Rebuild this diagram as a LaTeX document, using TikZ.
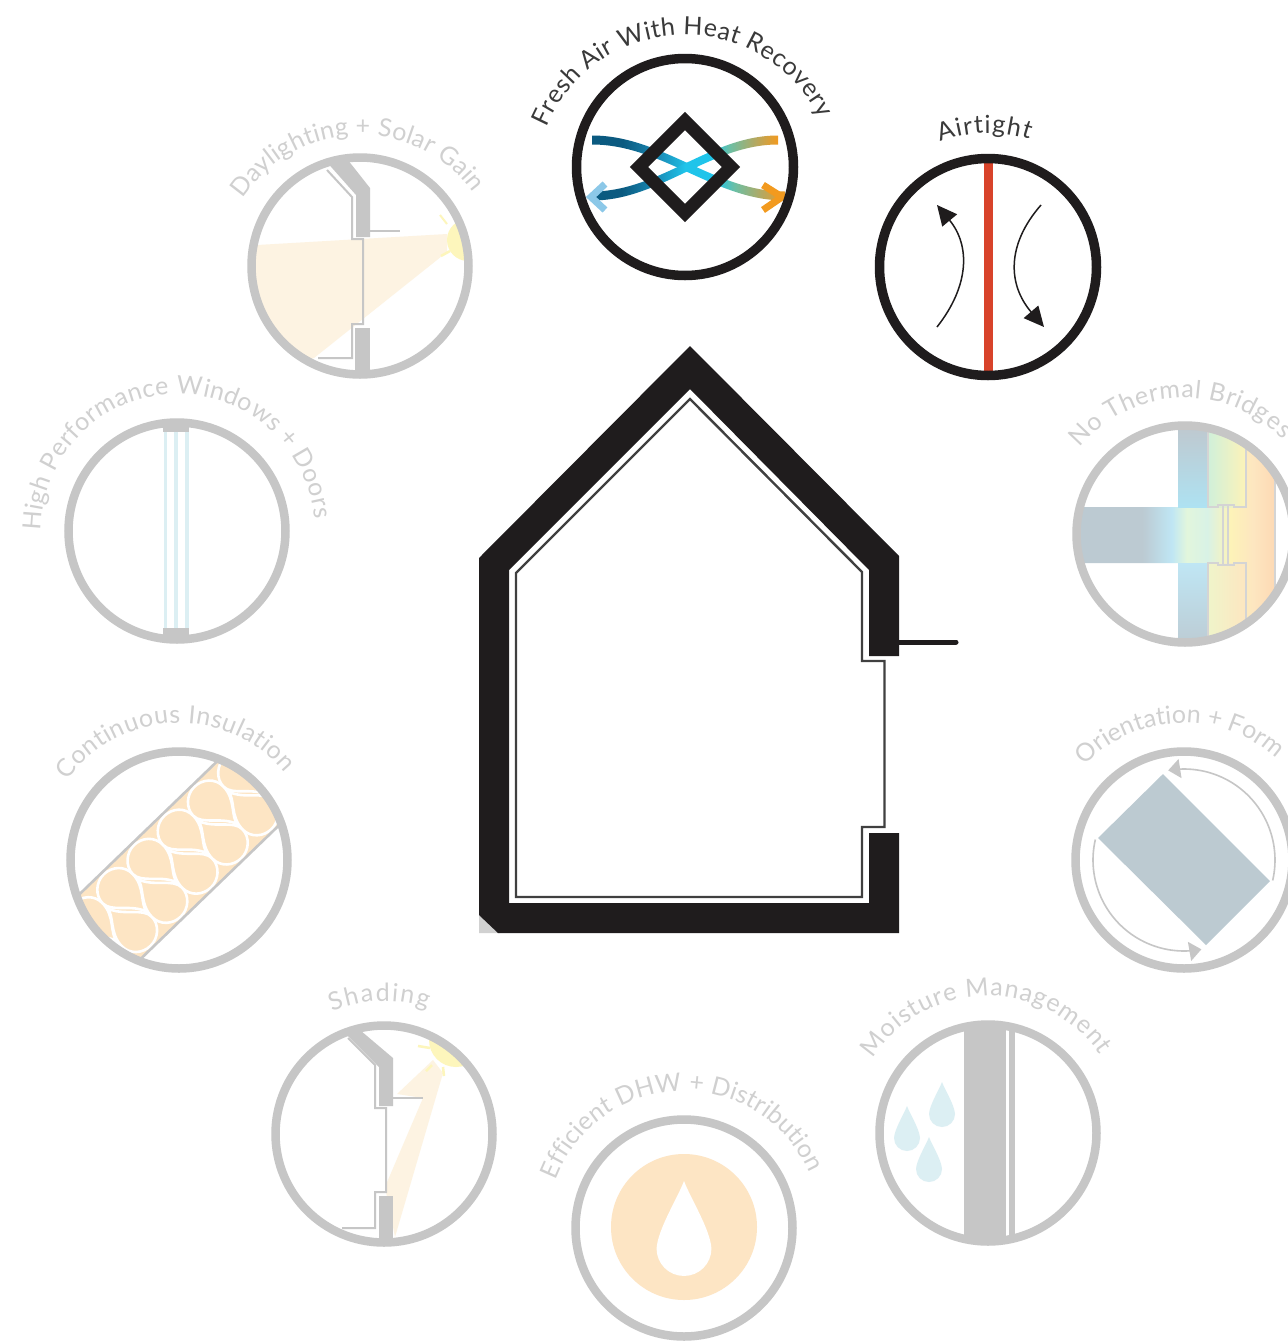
\documentclass[tikz,border=0pt]{standalone}
\usepackage{fontspec}
\usetikzlibrary{decorations.text,arrows.meta}
\newfontfamily\latofam{Lato}
\definecolor{inkblack}{HTML}{1F1C1D}
\definecolor{ringgray}{HTML}{C6C6C6}
\definecolor{labgray}{HTML}{D0D0D0}
\definecolor{labdark}{HTML}{3A3A3A}
\definecolor{peach}{HTML}{FDE5C4}
\definecolor{beam}{HTML}{FDF3E2}
\definecolor{sun}{HTML}{FDF6BC}
\definecolor{pale}{HTML}{DCEFF3}
\definecolor{slate}{HTML}{BCCAD1}
\definecolor{redline}{HTML}{D8432A}
\definecolor{ta}{HTML}{BCCAD2}\definecolor{tb}{HTML}{BFE6F4}\definecolor{tc}{HTML}{E2F6DC}
\definecolor{td}{HTML}{D8F2E6}\definecolor{te}{HTML}{FDF3B8}\definecolor{tf}{HTML}{FDE6C0}\definecolor{tg}{HTML}{FDD9B4}
\definecolor{tblue}{HTML}{B2C6E8}\definecolor{tgray}{HTML}{C0C6CC}\definecolor{tcyan}{HTML}{AEE2F2}
\definecolor{tgreen}{HTML}{D0F0DA}\definecolor{tlime}{HTML}{E6F8C4}\definecolor{tline}{HTML}{D4D4D4}
\definecolor{headblue}{HTML}{8CC8E8}
\definecolor{va}{HTML}{0B5A80}\definecolor{vb}{HTML}{1A8AB5}\definecolor{vc}{HTML}{1FC4EA}
\definecolor{vd}{HTML}{6CBFA4}\definecolor{ve}{HTML}{B5A860}\definecolor{vf}{HTML}{F29A1F}
\pgfdeclarehorizontalshading{thermbase}{100bp}{color(0bp)=(ta);color(25bp)=(ta);color(41bp)=(ta);color(48.5bp)=(tb);color(52.4bp)=(tc);color(57.6bp)=(td);color(63.5bp)=(te);color(69.4bp)=(tf);color(75bp)=(tg);color(100bp)=(tg)}
\pgfdeclarehorizontalshading{ventgrad}{100bp}{color(0bp)=(va);color(25bp)=(va);color(33bp)=(va);color(42bp)=(vb);color(50bp)=(vc);color(57bp)=(vc);color(62bp)=(vd);color(69bp)=(ve);color(75bp)=(vf);color(100bp)=(vf)}
\newcommand\graylab{\fontsize{25}{25}\selectfont\latofam\color{labgray}}
\newcommand\darklab{\fontsize{25}{25}\selectfont\latofam\color{labdark}}
% centre x, centre y, radius, start angle, end angle, format, text
\newcommand\arclabel[7]{\path[decorate,decoration={text along path,text align={fit to path},text={|#6|#7}}] plot[domain=#4:#5,samples=60] ({#1+#3*cos(\x)},{#2+#3*sin(\x)});}
% tip x, tip y, scale, fill colour
\newcommand\dropshape[4]{\begin{scope}[shift={(#1,#2)},scale=#3]
\fill[#4] (0,0) .. controls (3,8) and (12.5,23) .. (13,32) .. controls (13,39.2) and (7.2,45) .. (0,45) .. controls (-7.2,45) and (-13,39.2) .. (-13,32) .. controls (-12.5,23) and (-3,8) .. (0,0) -- cycle;
\end{scope}}
\newcommand\upperblob[1]{\path[blob,shift={(#1,0)}] (5,15) .. controls (5,5) and (21,-4) .. (21,-22) .. controls (21,-34) and (11,-42) .. (0,-42) .. controls (-11,-42) and (-21,-33) .. (-21,-22) .. controls (-21,-9) and (-1,-2) .. (5,15) -- cycle;}
\newcommand\lowerblob[1]{\path[blob,shift={(#1,0)}] (-5,-15) .. controls (-5,-5) and (-21,4) .. (-21,22) .. controls (-21,34) and (-11,42) .. (0,42) .. controls (11,42) and (21,33) .. (21,22) .. controls (21,9) and (1,2) .. (-5,-15) -- cycle;}
\tikzset{
  ringgrey/.style={circle,draw=ringgray,line width=8.5pt,minimum size=217pt,inner sep=0pt},
  ringblack/.style={circle,draw=inkblack,line width=9.5pt,minimum size=217pt,inner sep=0pt},
  wallfill/.style={fill=ringgray},
  thingray/.style={draw=ringgray,line width=2pt},
  thermline/.style={draw=tline,line width=1.5pt},
  thindark/.style={draw=black!75,line width=2.4pt,line join=miter},
  blob/.style={fill=peach,draw=white,line width=2.6pt},
  thinarrow/.style={draw=inkblack,line width=1.5pt,-{Triangle[length=20pt,width=19pt]}},
  turnarrow/.style={draw=ringgray,line width=1.6pt,-{Triangle[length=12pt,width=19pt]}},
}
\begin{document}
\begin{tikzpicture}[x=1pt,y=-1pt]
\useasboundingbox (0,0) rectangle (1288,1342);
\fill[white] (0,0) rectangle (1288,1342);

% ---- house
\fill[ringgray!80] (479,912) -- (479,933) -- (500,933) -- cycle;
\fill[inkblack] (690,346) -- (899,556) -- (899,656) -- (869,656) -- (869,570) -- (690,389) -- (509,570) -- (509,903) -- (869,903) -- (869,833) -- (899,833) -- (899,933) -- (498,933) -- (479,915) -- (479,558) -- cycle;
\draw[thindark] (690,399) -- (862,572) -- (862,661) -- (884.5,661) -- (884.5,827) -- (862,827) -- (862,897) -- (516,897) -- (516,573) -- cycle;
\draw[inkblack,line width=5pt,line cap=round] (899,642) -- (956,642);

% ---- fresh air
\shade[shading=ventgrad] plot[domain=0:180,samples=50] ({592+1.0722*\x},{168-28*cos(\x)-4.5}) -- plot[domain=180:0,samples=50] ({592+1.0722*\x},{168-28*cos(\x)+4.5}) -- cycle;
\shade[shading=ventgrad] plot[domain=0:180,samples=50] ({592+1.0333*\x},{168+28*cos(\x)-4.5}) -- plot[domain=180:0,samples=50] ({592+1.0333*\x},{168+28*cos(\x)+4.5}) -- cycle;
\draw[color=vf,line width=7pt] (763,185) -- (782,197) -- (763,210);
\draw[color=headblue,line width=7pt] (605,184) -- (591,197) -- (605,210);
\draw[inkblack,line width=13pt,line join=miter] (685,121) -- (731,167) -- (685,213) -- (639,167) -- cycle;
\node[ringblack] (fresh) at (685,167) {};
\arclabel{685}{185}{150}{202.5}{334}{\darklab}{Fresh Air With Heat Recovery}

% ---- airtight
\draw[redline,line width=9pt] (988,160) -- (988,372);
\coordinate (al1) at (937,327); \coordinate (al2) at (937,205);
\coordinate (ar1) at (1041,205); \coordinate (ar2) at (1044,327);
\draw[thinarrow] (al1) .. controls (970,285) and (970,245) .. (al2);
\draw[thinarrow] (ar1) .. controls (1006,245) and (1008,285) .. (ar2);
\node[ringblack] (airtight) at (988,267) {};
\arclabel{988}{267}{134}{249}{288}{\darklab}{Airtight}

% ---- daylighting
\begin{scope}
\clip (360,266) circle[radius=108];
\fill[beam] (447,234) -- (240,246) -- (240,380) -- (314,358) -- (447,252) -- cycle;
\fill[sun] (468,240) circle[radius=21];
\draw[sun,line width=2pt] (440,215) -- (447,224);
\draw[sun,line width=2.5pt] (441,256) -- (450,251);
\fill[wallfill] (340,150) -- (370,188) -- (370,237) -- (356,237) -- (356,195) -- (325,160) -- cycle;
\draw[thingray] (327,170) -- (352,197) -- (352,239) -- (363,239) -- (363,324) -- (352,324) -- (352,358) -- (318,358);
\fill[wallfill] (355,328) rectangle (370,385);
\draw[thingray] (370,231) -- (400,231);
\end{scope}
\node[ringgrey] (daylight) at (360,266) {};
\arclabel{360}{275}{140}{213}{324}{\graylab}{Daylighting + Solar Gain}

% ---- windows
\begin{scope}
\clip (177,531) circle[radius=108];
\foreach \gx in {165.5,176,187}{\draw[pale,line width=3.4pt] (\gx,420) -- (\gx,640);}
\fill[wallfill] (163,418) rectangle (189,432);
\fill[wallfill] (163,628) rectangle (189,642);
\end{scope}
\node[ringgrey] (windows) at (177,531) {};
\arclabel{178}{531}{137}{180}{355}{\graylab}{High Performance Windows + Doors}

% ---- thermal bridges
\begin{scope}
\clip (1185,534) circle[radius=108];
\begin{scope}
\clip (1070,507) rectangle (1290,563) (1246,420) rectangle (1275,650);
\shade[shading=thermbase] (1080,400) rectangle (1275,670);
\end{scope}
\shade[top color=tgray,middle color=tblue,bottom color=tcyan] (1178,420) rectangle (1208,507);
\shade[top color=tb,middle color=tcyan,bottom color=ta] (1178,563) rectangle (1208,650);
\shade[left color=tgreen,middle color=tlime,right color=te] (1208,420) rectangle (1246,507);
\shade[left color=tc!50!te,middle color=te,right color=tf] (1208,563) rectangle (1246,650);
\draw[thermline] (1208,420) -- (1208,507) -- (1218,507) -- (1218,505) -- (1234,505) -- (1234,507) -- (1246,507) -- (1246,420);
\draw[thermline] (1208,650) -- (1208,563) -- (1218,563) -- (1218,565) -- (1234,565) -- (1234,563) -- (1246,563) -- (1246,650);
\draw[thermline] (1223,505) -- (1223,565) (1228,505) -- (1228,565);
\draw[thermline] (1275,420) -- (1275,650);
\end{scope}
\node[ringgrey] (thermal) at (1185,534) {};
\arclabel{1185}{534}{136}{219.4}{316}{\graylab}{No Thermal Bridges}

% ---- orientation
\fill[slate] (1163,774) -- (1270,881) -- (1206,945) -- (1098,838) -- cycle;
\draw[turnarrow] plot[domain=13:-100,samples=50] ({1184+91*cos(\x)},{860+91*sin(\x)});
\draw[turnarrow] plot[domain=193:79,samples=50] ({1184+91*cos(\x)},{860+91*sin(\x)});
\node[ringgrey] (orient) at (1184,860) {};
\arclabel{1184}{860}{137}{223.8}{310.5}{\graylab}{Orientation + Form}

% ---- insulation
\begin{scope}
\clip (179,860) circle[radius=108];
\begin{scope}[shift={(179,860)},rotate=44]
\fill[peach] (-130,-44.5) rectangle (130,44.5);
\foreach \k in {-4,...,2}{\upperblob{62+42*\k}}
\foreach \k in {-4,...,2}{\lowerblob{46+42*\k}}
\draw[thingray,line width=2.6pt] (-130,-44.5) -- (130,-44.5);
\draw[thingray,line width=2.6pt] (-130,44.5) -- (130,44.5);
\end{scope}
\end{scope}
\node[ringgrey] (insul) at (179,860) {};
\arclabel{179}{860}{137}{215.5}{320.6}{\graylab}{Continuous Insulation}

% ---- shading
\begin{scope}
\clip (384,1134) circle[radius=108];
\fill[beam] (433,1060) -- (397,1094) -- (423,1098) -- (385,1187) -- (395,1237) -- (443,1073) -- cycle;
\fill[sun] (456,1040) circle[radius=27];
\draw[sun,line width=2.5pt] (418,1046) -- (430,1048);
\draw[sun,line width=2.5pt] (432,1065) -- (426,1071);
\draw[sun,line width=2.5pt] (443,1067) -- (444,1076);
\fill[wallfill] (354,1025) -- (393,1058) -- (393,1106) -- (379,1106) -- (379,1067) -- (342,1030) -- cycle;
\draw[thingray] (348,1038) -- (375,1065) -- (375,1108) -- (386,1108) -- (386,1192) -- (375,1192) -- (375,1228) -- (342,1228);
\fill[wallfill] (379,1196) rectangle (393,1250);
\draw[thingray] (393,1098) -- (423,1098);
\end{scope}
\node[ringgrey] (shading) at (384,1134) {};
\arclabel{384}{1134}{133}{247}{289}{\graylab}{Shading}

% ---- moisture
\begin{scope}
\clip (988,1133) circle[radius=108];
\fill[wallfill] (964,1020) rectangle (1005.5,1245);
\fill[wallfill] (1009,1020) rectangle (1015,1245);
\end{scope}
\dropshape{942}{1082}{1}{pale}
\dropshape{907}{1106}{1}{pale}
\dropshape{929}{1137}{1}{pale}
\node[ringgrey] (moisture) at (988,1133) {};
\arclabel{988}{1133}{137}{213}{325}{\graylab}{Moisture Management}

% ---- DHW
\fill[peach] (684,1227) circle[radius=73];
\dropshape{684}{1181}{2.11}{white}
\node[ringgrey] (dhw) at (684,1228) {};
\arclabel{684}{1228}{137}{200.4}{336.4}{\graylab}{Efficient DHW + Distribution}
\end{tikzpicture}
\end{document}
